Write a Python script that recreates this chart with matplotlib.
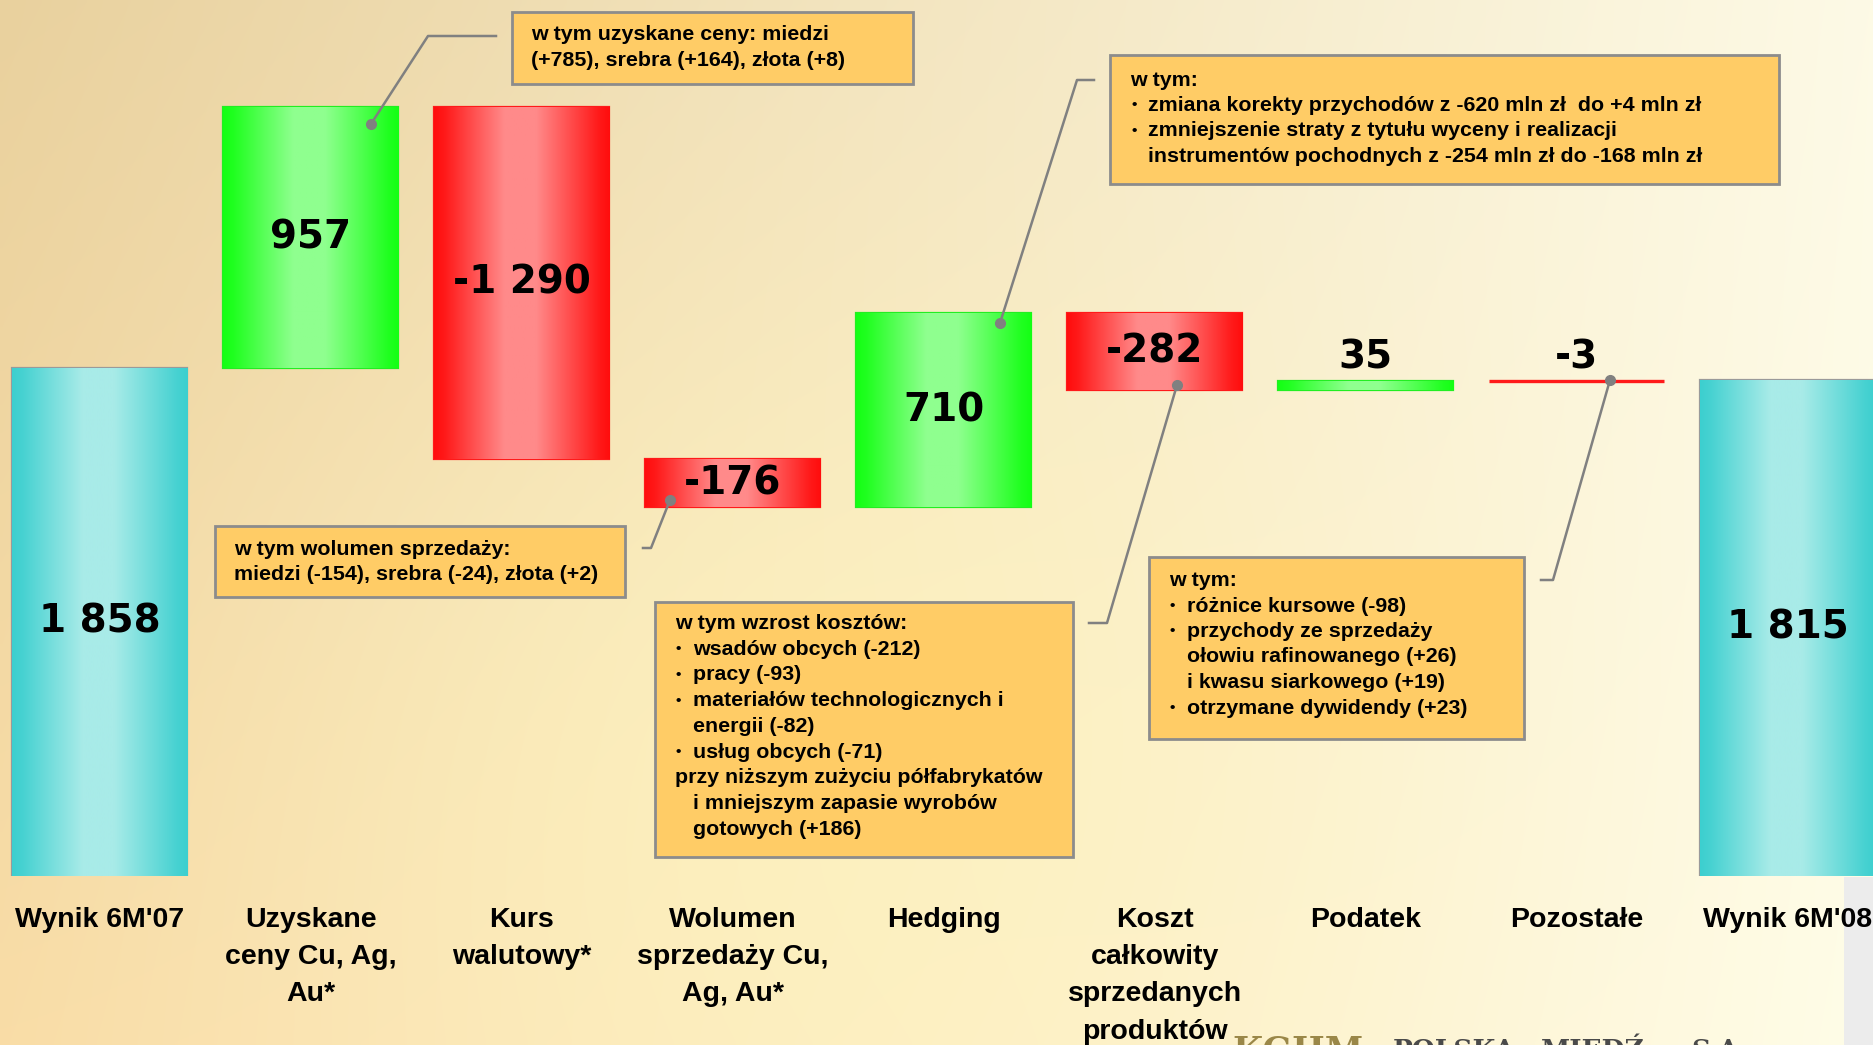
import numpy as np
import matplotlib

matplotlib.use("Agg")

import matplotlib.pyplot as plt
from matplotlib.colors import to_rgb
from matplotlib.lines import Line2D
from matplotlib.patches import Rectangle

# --- data: wynik netto, mln zł ---
categories = [
    "Wynik 6M'07",
    "Uzyskane\nceny Cu, Ag,\nAu*",
    "Kurs\nwalutowy*",
    "Wolumen\nsprzedaży Cu,\nAg, Au*",
    "Hedging",
    "Koszt\ncałkowity\nsprzedanych\nproduktów",
    "Podatek",
    "Pozostałe",
    "Wynik 6M'08",
]
start_value = 1858
changes = [957, -1290, -176, 710, -282, 35, -3]
end_value = 1815
value_labels = ["1 858", "957", "-1 290", "-176", "710", "-282", "35", "-3", "1 815"]

# callout boxes: (left, top, right, bottom) in px of the 1873x1045 slide,
# text lines as (indent level, text); indent 1 = bullet, 2 = hanging continuation
callouts = [
    dict(box=(512, 12, 913, 84), text_x=531, first_y=34.6, step=26.4,
         lines=[(0, "w tym uzyskane ceny: miedzi"),
                (0, "(+785), srebra (+164), złota (+8)")],
         leader=[(371, 124), (428, 36), (496, 36)]),
    dict(box=(215, 526, 625, 597), text_x=234, first_y=549.5, step=25.0,
         lines=[(0, "w tym wolumen sprzedaży:"),
                (0, "miedzi (-154), srebra (-24), złota (+2)")],
         leader=[(670, 500), (651, 548), (643, 548)]),
    dict(box=(655, 602, 1073, 857), text_x=675, first_y=623.5, step=25.7,
         lines=[(0, "w tym wzrost kosztów:"),
                (1, "wsadów obcych (-212)"),
                (1, "pracy (-93)"),
                (1, "materiałów technologicznych i"),
                (2, "energii (-82)"),
                (1, "usług obcych (-71)"),
                (0, "przy niższym zużyciu półfabrykatów"),
                (2, "i mniejszym zapasie wyrobów"),
                (2, "gotowych (+186)")],
         leader=[(1177, 385), (1107, 623), (1089, 623)]),
    dict(box=(1110, 55, 1779, 184), text_x=1130, first_y=80, step=25.5,
         lines=[(0, "w tym:"),
                (1, "zmiana korekty przychodów z -620 mln zł  do +4 mln zł"),
                (1, "zmniejszenie straty z tytułu wyceny i realizacji"),
                (2, "instrumentów pochodnych z -254 mln zł do -168 mln zł")],
         leader=[(1000, 323), (1077, 80), (1094, 80)]),
    dict(box=(1149, 557, 1524, 739), text_x=1169, first_y=580.5, step=25.5,
         lines=[(0, "w tym:"),
                (1, "różnice kursowe (-98)"),
                (1, "przychody ze sprzedaży"),
                (2, "ołowiu rafinowanego (+26)"),
                (2, "i kwasu siarkowego (+19)"),
                (1, "otrzymane dywidendy (+23)")],
         leader=[(1610, 380), (1553, 580), (1541, 580)]),
]

W, H = 1873, 1045
TEXT_FONT = ["Liberation Sans", "DejaVu Sans"]

COLORS = {
    "total": ("#3ccfcf", "#a8ebe8", "#9a9a9a"),
    "up": ("#14ff14", "#8fff8f", "#22ee22"),
    "down": ("#ff0d0d", "#ff8a8a", "#ff1a1a"),
}


def fxy(x, y):
    """Slide pixel (origin top-left) -> figure fraction."""
    return x / W, 1 - y / H


def background():
    ny, nx = 200, 400
    t = np.linspace(0, 1, nx)[None, :, None]
    s = np.linspace(0, 1, ny)[:, None, None]
    tl = np.array(to_rgb("#e9d19e"))
    tr = np.array(to_rgb("#fdfae6"))
    bl = np.array(to_rgb("#f9dca6"))
    br = np.array(to_rgb("#fffde8"))
    img = (tl * (1 - t) * (1 - s) + tr * t * (1 - s)
           + bl * (1 - t) * s + br * t * s)
    glow = np.exp(-((t - 0.45) ** 2 / 0.08 + (s - 0.75) ** 2 / 0.2)) * 0.55
    img = img * (1 - glow) + np.array(to_rgb("#fff6bd")) * glow
    return np.clip(img, 0, 1)


def bar_gradient(edge, light, n=256):
    t = np.linspace(0, 1, n)
    w = np.interp(t, [0, 0.06, 0.4, 0.58, 0.94, 1.0], [0, 0.1, 1, 1, 0.1, 0])
    e, l = np.array(to_rgb(edge)), np.array(to_rgb(light))
    return (e[None, :] * (1 - w[:, None]) + l[None, :] * w[:, None])[None, :, :]


# waterfall geometry from the data
levels = start_value + np.cumsum(changes)
prev = np.concatenate([[start_value], levels[:-1]])
bottoms = [0] + list(np.minimum(prev, levels)) + [0]
heights = [start_value] + [abs(c) for c in changes] + [end_value]
kinds = ["total"] + ["up" if c > 0 else "down" for c in changes] + ["total"]
x = np.arange(len(categories))

fig = plt.figure(figsize=(W / 100, H / 100), dpi=100)
bg = fig.add_axes([0, 0, 1, 1], zorder=0)
bg.imshow(background(), aspect="auto", extent=[0, 1, 0, 1], interpolation="bilinear")
bg.axis("off")

# greyish slide border strip bottom right
fig.add_artist(Rectangle(fxy(1844, 1045), 29 / W, 168 / H, transform=fig.transFigure,
                         facecolor="#ececec", edgecolor="none", zorder=0.5))

base_px = 875.6
px_per_unit = 0.2732
ax = fig.add_axes([0, 1 - base_px / H, 1, base_px / H], zorder=1)
ax.set_facecolor("none")

bar_w = 0.83
bars = ax.bar(x, heights, bottom=bottoms, width=bar_w, zorder=2)
for bar, kind, h in zip(bars, kinds, heights):
    edge, light, line = COLORS[kind]
    bar.set_facecolor(edge)
    bar.set_edgecolor(line)
    bar.set_linewidth(2.4 if h * px_per_unit < 3 else 1.6)
    x0, y0 = bar.get_x(), bar.get_y()
    im = ax.imshow(bar_gradient(edge, light), aspect="auto", zorder=2.5,
                   extent=[x0, x0 + bar.get_width(), y0, y0 + bar.get_height()],
                   interpolation="bilinear")
    im.set_clip_path(bar)

ax.set_xlim(-0.4725, 8.404)
ax.set_ylim(0, base_px / px_per_unit)
for sp in ax.spines.values():
    sp.set_visible(False)
ax.set_yticks([])
ax.set_xticks(x)
ax.set_xticklabels(categories, fontsize=20.5, fontweight="bold", family=TEXT_FONT,
                   linespacing=1.565)
ax.tick_params(axis="x", length=0, pad=22.5)

# value labels: inside tall bars, above thin ones
for xi, b, h, lab in zip(x, bottoms, heights, value_labels):
    if h * px_per_unit > 40:
        ax.text(xi, b + h / 2, lab, ha="center", va="center", fontsize=28,
                fontweight="bold", family="DejaVu Sans", zorder=4)
    else:
        ax.annotate(lab, (xi, b + h), xytext=(0, 9), textcoords="offset points",
                    ha="center", va="baseline", fontsize=28, fontweight="bold",
                    family="DejaVu Sans", zorder=4)

# callouts
for c in callouts:
    l, t, r, btm = c["box"]
    fig.add_artist(Rectangle(fxy(l, btm), (r - l) / W, (btm - t) / H,
                             transform=fig.transFigure, facecolor="#ffcc66",
                             edgecolor="#8c8c8c", linewidth=2, zorder=5))
    for k, (level, txt) in enumerate(c["lines"]):
        ty = c["first_y"] + k * c["step"]
        tx = c["text_x"] + (18 if level else 0)
        if level == 1:
            fig.text(*fxy(c["text_x"] + 1, ty), "\u2022", fontsize=11,
                     fontweight="bold", family=TEXT_FONT, va="center", ha="left",
                     zorder=6)
        fig.text(*fxy(tx, ty), txt, fontsize=15.4, fontweight="bold",
                 family=TEXT_FONT, va="center", ha="left", zorder=6)
    pts = [fxy(px, py) for px, py in c["leader"]]
    fig.add_artist(Line2D([p[0] for p in pts], [p[1] for p in pts],
                          transform=fig.transFigure, color="#808080", linewidth=1.8,
                          zorder=5))
    fig.add_artist(Line2D([pts[0][0]], [pts[0][1]], transform=fig.transFigure,
                          marker="o", markersize=7, color="#808080", zorder=5))

# company footer, cut by the slide edge
fig.text(*fxy(1232, 1061), "KGHM", fontsize=25, fontweight="bold",
         family="DejaVu Serif", color="#9a8748", va="baseline", ha="left")
for word, wx in [("POLSKA", 1393), ("MIEDŹ", 1541), ("S.A.", 1691)]:
    fig.text(*fxy(wx, 1058), word, fontsize=19, fontweight="bold",
             family="DejaVu Serif", color="#4a4a4a", va="baseline", ha="left")

fig.savefig("out.png", dpi=100)
plt.close(fig)
